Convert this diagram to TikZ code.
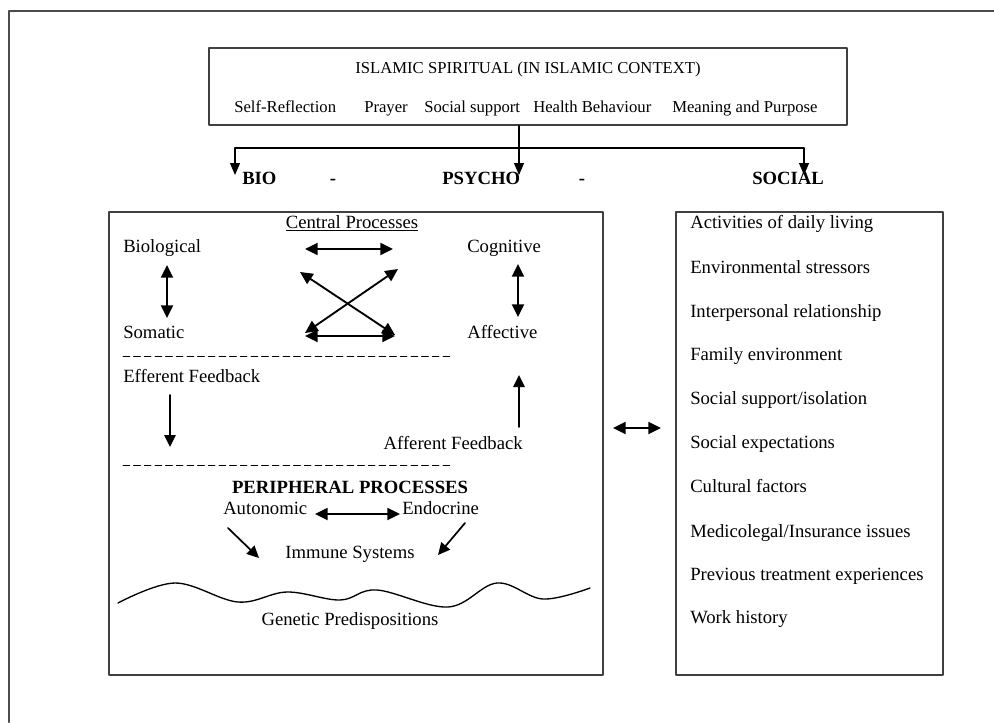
\documentclass[tikz,border=0pt]{standalone}
\usepackage{fontspec}
\setmainfont{Liberation Serif}
\usetikzlibrary{arrows,arrows.meta}
\tikzset{
  framebox/.style={draw=black!75,line width=1pt,inner sep=0pt},
  txt/.style={font=\fontsize{14}{16}\selectfont,inner sep=0pt,text height=11pt,text depth=3pt},
  toptxt/.style={font=\fontsize{12.5}{14}\selectfont,inner sep=0pt,text height=9.5pt,text depth=2.7pt},
  boldtxt/.style={font=\fontsize{14}{16}\selectfont\bfseries,inner sep=0pt,text height=11pt,text depth=3pt},
  twoway/.style={{Triangle[length=9.5pt,width=9pt]}-{Triangle[length=9.5pt,width=9pt]},line width=1.4pt},
  oneway/.style={-{Triangle[length=9pt,width=8.5pt]},line width=1.3pt},
  thinarrow/.style={-{Triangle[length=9pt,width=7.5pt]},line width=0.8pt}
}
\begin{document}
\begin{tikzpicture}[line cap=round,line join=round,x=0.75pt,y=-0.75pt]
\useasboundingbox (0,0) rectangle (994,722);
%\clip(0,0) rectangle (994,722);
\draw [line width=1.5pt,color=black!70] (994,11)-- (9,11)-- (9,722);
% spiritual box
\node [framebox,minimum width=478.5pt,minimum height=57.75pt] (spirit) at (528,86.5) {};
\draw[color=black] (528,69) node[toptxt] (title) {ISLAMIC SPIRITUAL (IN ISLAMIC CONTEXT)};
\draw[color=black] (234,108) node[toptxt,anchor=west] (selfref) {Self-Reflection};
\draw[color=black] (364,108) node[toptxt,anchor=west] (prayer) {Prayer};
\draw[color=black] (424,108) node[toptxt,anchor=west] (socsup) {Social support};
\draw[color=black] (533,108) node[toptxt,anchor=west] (health) {Health Behaviour};
\draw[color=black] (672,108) node[toptxt,anchor=west] (meaning) {Meaning and Purpose};
\coordinate (busL) at (235,148);
\coordinate (busR) at (804,148);
\coordinate (bioTip) at (235,175);
\coordinate (psyTip) at (519,175);
\coordinate (socTip) at (804,175);
\draw [thinarrow] (spirit.south -| psyTip)-- (psyTip);
\draw [thinarrow] (busR)-- (busL)-- (bioTip);
\draw [thinarrow] (busR)-- (socTip);
\draw[color=black] (242,179) node[boldtxt,anchor=west] (bio) {BIO};
\draw[color=black] (333,179) node[boldtxt] (dashA) {-};
\draw[color=black] (442,179) node[boldtxt,anchor=west] (psycho) {PSYCHO};
\draw[color=black] (582,179) node[boldtxt] (dashB) {-};
\draw[color=black] (752,179) node[boldtxt,anchor=west] (social) {SOCIAL};
% left box
\node [framebox,minimum width=370.5pt,minimum height=347.25pt] (psybox) at (356,443.5) {};
\draw[color=black] (352,223) node[txt] (central) {\underline{Central Processes}};
\draw[color=black] (123,247) node[txt,anchor=west] (biological) {Biological};
\draw[color=black] (123,333) node[txt,anchor=west] (somatic) {Somatic};
\draw[color=black] (467,247) node[txt,anchor=west] (cognitive) {Cognitive};
\draw[color=black] (467,333) node[txt,anchor=west] (affective) {Affective};
\coordinate (bs1) at (167,265);
\coordinate (bs2) at (167,318);
\coordinate (ca1) at (518,264);
\coordinate (ca2) at (518,317);
\draw [twoway] (bs1)-- (bs2);
\draw [twoway] (ca1)-- (ca2);
\coordinate (hTL) at (305,249);
\coordinate (hTR) at (393,249);
\coordinate (hBL) at (305,336);
\coordinate (hBR) at (395,336);
\coordinate (dTL) at (300,272);
\coordinate (dTR) at (398,269);
\coordinate (dBL) at (305,333);
\coordinate (dBR) at (395,335);
\draw [twoway] (hTL)-- (hTR);
\draw [twoway] (hBL)-- (hBR);
\draw [twoway] (dTL)-- (dBR);
\draw [twoway] (dTR)-- (dBL);
\coordinate (dash1L) at (123,356);
\coordinate (dash1R) at (453,356);
\draw [dash pattern=on 5pt off 3pt,line width=0.7pt] (dash1L)-- (dash1R);
\draw[color=black] (123,377) node[txt,anchor=west] (efferent) {Efferent Feedback};
\draw[color=black] (523,444) node[txt,anchor=east] (afferent) {Afferent Feedback};
\coordinate (ef1) at (170,395);
\coordinate (ef2) at (170,447);
\coordinate (af1) at (519,427);
\coordinate (af2) at (519,375);
\draw [oneway] (ef1)-- (ef2);
\draw [oneway] (af1)-- (af2);
\coordinate (dash2L) at (123,465);
\coordinate (dash2R) at (453,465);
\draw [dash pattern=on 5pt off 3pt,line width=0.7pt] (dash2L)-- (dash2R);
\draw[color=black] (350,488) node[boldtxt] (peripheral) {PERIPHERAL PROCESSES};
\draw[color=black] (223,509) node[txt,anchor=west] (autonomic) {Autonomic};
\draw[color=black] (402,509) node[txt,anchor=west] (endocrine) {Endocrine};
\draw[color=black] (350,553) node[txt] (immune) {Immune Systems};
\coordinate (ae1) at (315,514);
\coordinate (ae2) at (400,514);
\draw [twoway] (ae1)-- (ae2);
\coordinate (au1) at (228,528);
\coordinate (au2) at (259,558);
\coordinate (en1) at (465,523);
\coordinate (en2) at (438,555);
\draw [oneway] (au1)-- (au2);
\draw [oneway] (en1)-- (en2);
\draw [line width=1pt] plot[smooth,tension=0.6] coordinates {(118,603) (175,583) (238,602) (287,592) (340,600) (377,590) (448,607) (497,583) (543,599) (590,588)};
\draw[color=black] (350,620) node[txt] (genetic) {Genetic Predispositions};
% social box
\node [framebox,minimum width=200.25pt,minimum height=347.25pt] (socbox) at (809.5,443.5) {};
\coordinate (lr1) at (613,428);
\coordinate (lr2) at (661,428);
\draw [twoway] (lr1)-- (lr2);
\draw[color=black] (690,223) node[txt,anchor=west] (s1) {Activities of daily living};
\draw[color=black] (690,268) node[txt,anchor=west] (s2) {Environmental stressors};
\draw[color=black] (690,312) node[txt,anchor=west] (s3) {Interpersonal relationship};
\draw[color=black] (690,355) node[txt,anchor=west] (s4) {Family environment};
\draw[color=black] (690,399) node[txt,anchor=west] (s5) {Social support/isolation};
\draw[color=black] (690,443) node[txt,anchor=west] (s6) {Social expectations};
\draw[color=black] (690,487) node[txt,anchor=west] (s7) {Cultural factors};
\draw[color=black] (690,532) node[txt,anchor=west] (s8) {Medicolegal/Insurance issues};
\draw[color=black] (690,575) node[txt,anchor=west] (s9) {Previous treatment experiences};
\draw[color=black] (690,618) node[txt,anchor=west] (s10) {Work history};
\end{tikzpicture}
\end{document}
